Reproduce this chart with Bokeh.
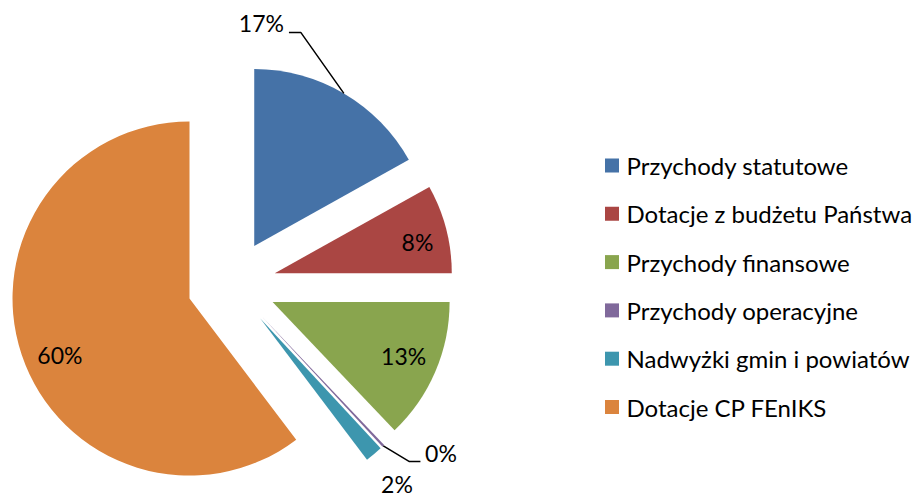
import math
from bokeh.plotting import figure
from bokeh.models import Range1d, ColumnDataSource
from bokeh.core.properties import value
from bokeh.embed import file_html
from bokeh.resources import INLINE

# ---- data ----
categories = ["Przychody statutowe", "Dotacje z budżetu Państwa", "Przychody finansowe",
              "Przychody operacyjne", "Nadwyżki gmin i powiatów", "Dotacje CP FEnIKS"]
shares = [16.9, 8.1, 12.9, 0.2, 1.6, 60.3]
labels = ["17%", "8%", "13%", "0%", "2%", "60%"]
colors = ["#4572A7", "#AA4643", "#89A54E", "#80699B", "#3D96AE", "#DB843D"]

# ---- layout (reference pixel space, y measured downward) ----
W, H = 920, 498
FONT = "Lato"
FS_LABEL = "23px"
FS_LEG = "24px"
CX, CY = 231.2, 283.9       # pie centre
R = 177.0                   # radius
EXPLODE = 44.5              # explosion distance
# label placement: (radius fraction, angle clockwise from top in deg, relative to exploded vertex)
label_polar = [(1.26, 1.85), (0.826, 77.5), (0.80, 112.3), (1.268, 127.2), (1.213, 140.45), (0.80, 246.3)]
# leader lines (offsets from label centre: elbow, end); None = no leader
leaders = [((39.5, 9.5), (27.5, 9.5)), None, None, ((-31.5, 9), (-20.5, 9)), None, None]
LEG_X, LEG_Y0, LEG_DY = 611.5, 165.0, 48.3
LEG_TX = 626.0


def fy(y):
    return H - y


p = figure(width=W, height=H, x_range=Range1d(0, W), y_range=Range1d(0, H),
           output_backend="svg", toolbar_location=None, min_border=0,
           x_axis_location=None, y_axis_location=None)
p.grid.visible = False
p.outline_line_color = None
p.background_fill_color = "white"

total = sum(shares)
cum = 0.0
wx, wy, sa, ea = [], [], [], []
lx, ly = [], []
vertices = []
for i, s in enumerate(shares):
    t0 = 2 * math.pi * cum / total
    t1 = 2 * math.pi * (cum + s) / total
    tm = (t0 + t1) / 2
    cum += s
    vx = CX + EXPLODE * math.sin(tm)
    vy = CY - EXPLODE * math.cos(tm)
    vertices.append((vx, vy, tm))
    wx.append(vx)
    wy.append(fy(vy))
    sa.append(math.pi / 2 - t0)
    ea.append(math.pi / 2 - t1)
    rf, ang = label_polar[i]
    a = math.radians(ang)
    lx.append(vx + rf * R * math.sin(a))
    ly.append(fy(vy - rf * R * math.cos(a)))

src = ColumnDataSource(dict(x=wx, y=wy, sa=sa, ea=ea, color=colors))
p.wedge(x="x", y="y", radius=R, start_angle="sa", end_angle="ea", direction="clock",
        fill_color="color", line_color=None, source=src)

# leader lines
for i, ld in enumerate(leaders):
    if ld is None:
        continue
    vx, vy, tm = vertices[i]
    ax = vx + R * math.sin(tm)
    ay = vy - R * math.cos(tm)
    lcx, lcy = lx[i], H - ly[i]
    (ex, ey), (nx, ny) = ld
    xs = [ax, lcx + ex, lcx + nx]
    ys = [fy(ay), fy(lcy + ey), fy(lcy + ny)]
    p.line(xs, ys, line_color="black", line_width=1.5)

# data labels
p.text(x=lx, y=ly, text=labels, text_font=value(FONT), text_font_size=FS_LABEL,
       text_align="center", text_baseline="middle", text_color="black")

# legend
leg_y = [fy(LEG_Y0 + LEG_DY * i) for i in range(len(categories))]
p.scatter(x=[LEG_X] * len(categories), y=leg_y, marker="square", size=14,
          fill_color=colors, line_color=None)
p.text(x=[LEG_TX] * len(categories), y=leg_y, text=categories, text_font=value(FONT),
       text_font_size=FS_LEG, text_align="left", text_baseline="middle", text_color="black")

open("out.html", "w").write(file_html(p, INLINE))
